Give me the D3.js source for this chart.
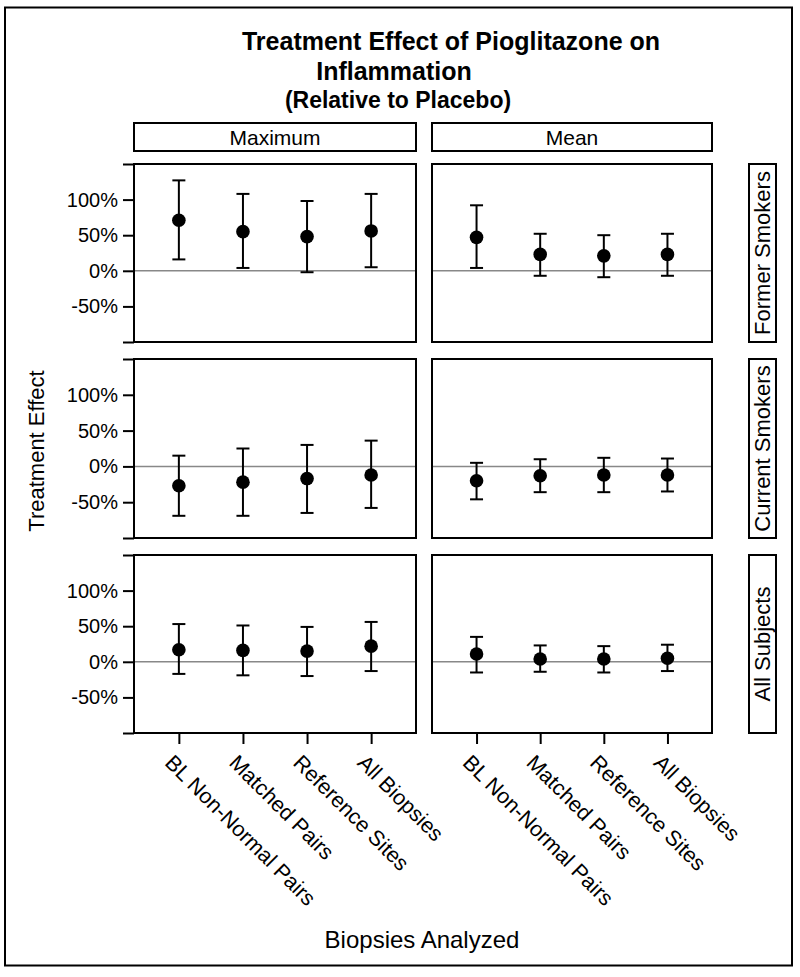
<!DOCTYPE html>
<html>
<head>
<meta charset="utf-8">
<script src="https://cdn.jsdelivr.net/npm/d3@7"></script>
<style>
  body { margin: 0; background: #fff; }
  svg { display: block; }
  text { font-family: "Liberation Sans", Arial, sans-serif; fill: #000; }
</style>
</head>
<body>
<svg id="chart" width="800" height="977"></svg>
<script>
// ---- Data ----
const categories = ["BL Non-Normal Pairs", "Matched Pairs", "Reference Sites", "All Biopsies"];
const columns = ["Maximum", "Mean"];
const rowsLabels = ["Former Smokers", "Current Smokers", "All Subjects"];

// Treatment effect (%) per row (Former, Current, All) and category
const maxEst  = [[71, 55, 48, 56], [-27, -22, -17, -12], [17, 16, 15, 22]];
const maxLow  = [[16, 4, -2, 5], [-69, -69, -65, -58], [-17, -19, -20, -13]];
const maxHigh = [[127, 108, 98, 108], [15, 25, 30, 36], [53, 51, 49, 56]];

const meanEst  = [[47, 23, 21, 23], [-20, -13, -12, -12], [11, 4, 4, 5]];
const meanLow  = [[4, -7, -9, -7], [-46, -36, -36, -35], [-15, -14, -15, -13]];
const meanHigh = [[92, 52, 50, 52], [5, 10, 12, 11], [35, 23, 22, 24]];

const yTicks = [-100, -50, 0, 50, 100, 150];
const yTickLabels = ["", "-50%", "0%", "50%", "100%", ""];
const yDomain = [-100, 150];

const titleLines = ["Treatment Effect of Pioglitazone on", "Inflammation", "(Relative to Placebo)"];
const yTitle = "Treatment Effect";
const xTitle = "Biopsies Analyzed";

// ---- Layout ----
const svg = d3.select("#chart");
const colX = [[134, 416], [432, 712]];
const rowY = [[164, 342], [359, 538], [555, 733]];
const stripTop = [123, 151];
const rowStripX = [749, 776];

const columnData = [
  { est: maxEst, low: maxLow, high: maxHigh },
  { est: meanEst, low: meanLow, high: meanHigh }
];

// Outer frame
svg.append("rect").attr("x", 5).attr("y", 7.5).attr("width", 787).attr("height", 958)
  .attr("fill", "none").attr("stroke", "#000").attr("stroke-width", 2);

// Title
const title = svg.append("g");
title.append("text").attr("x", 451).attr("y", 50).attr("text-anchor", "middle")
  .attr("font-size", 25).attr("font-weight", "bold").text(titleLines[0]);
title.append("text").attr("x", 394).attr("y", 80).attr("text-anchor", "middle")
  .attr("font-size", 25).attr("font-weight", "bold").text(titleLines[1]);
title.append("text").attr("x", 398).attr("y", 108).attr("text-anchor", "middle")
  .attr("font-size", 23).attr("font-weight", "bold").text(titleLines[2]);

// Column strips
columns.forEach((c, ci) => {
  const [x0, x1] = colX[ci];
  svg.append("rect").attr("x", x0).attr("y", stripTop[0]).attr("width", x1 - x0).attr("height", stripTop[1] - stripTop[0])
    .attr("fill", "#fff").attr("stroke", "#000").attr("stroke-width", 2);
  svg.append("text").attr("x", (x0 + x1) / 2).attr("y", (stripTop[0] + stripTop[1]) / 2)
    .attr("dy", "0.36em").attr("text-anchor", "middle").attr("font-size", 21).text(c);
});

// Row strips
rowsLabels.forEach((r, ri) => {
  const [y0, y1] = rowY[ri];
  svg.append("rect").attr("x", rowStripX[0]).attr("y", y0).attr("width", rowStripX[1] - rowStripX[0]).attr("height", y1 - y0)
    .attr("fill", "#fff").attr("stroke", "#000").attr("stroke-width", 2);
  const cx = (rowStripX[0] + rowStripX[1]) / 2, cy = (y0 + y1) / 2;
  svg.append("text").attr("transform", `translate(${cx},${cy}) rotate(-90)`)
    .attr("dy", "0.36em").attr("text-anchor", "middle").attr("font-size", 22).text(r);
});

// Panels
rowY.forEach(([y0, y1], ri) => {
  const y = d3.scaleLinear().domain(yDomain).range([y1, y0]);
  colX.forEach(([x0, x1], ci) => {
    const x = d3.scalePoint().domain(categories).range([x0, x1]).padding(0.7);
    const g = svg.append("g");
    const d = columnData[ci];

    // zero reference line
    g.append("line").attr("x1", x0).attr("x2", x1).attr("y1", y(0)).attr("y2", y(0))
      .attr("stroke", "#888").attr("stroke-width", 1.5);

    const pts = categories.map((cat, k) => ({ cat, est: d.est[ri][k], lo: d.low[ri][k], hi: d.high[ri][k] }));
    const bars = g.selectAll("g.bar").data(pts).enter().append("g").attr("class", "bar");
    bars.append("line").attr("x1", p => x(p.cat)).attr("x2", p => x(p.cat))
      .attr("y1", p => y(p.lo)).attr("y2", p => y(p.hi)).attr("stroke", "#000").attr("stroke-width", 2);
    bars.append("line").attr("x1", p => x(p.cat) - 6.5).attr("x2", p => x(p.cat) + 6.5)
      .attr("y1", p => y(p.hi)).attr("y2", p => y(p.hi)).attr("stroke", "#000").attr("stroke-width", 2);
    bars.append("line").attr("x1", p => x(p.cat) - 6.5).attr("x2", p => x(p.cat) + 6.5)
      .attr("y1", p => y(p.lo)).attr("y2", p => y(p.lo)).attr("stroke", "#000").attr("stroke-width", 2);
    bars.append("circle").attr("cx", p => x(p.cat)).attr("cy", p => y(p.est)).attr("r", 6.8).attr("fill", "#000");

    // panel border
    g.append("rect").attr("x", x0).attr("y", y0).attr("width", x1 - x0).attr("height", y1 - y0)
      .attr("fill", "none").attr("stroke", "#000").attr("stroke-width", 2);

    // y axis on left column
    if (ci === 0) {
      const ax = svg.append("g").attr("transform", `translate(${x0},0)`)
        .call(d3.axisLeft(y).tickValues(yTicks).tickSize(11).tickPadding(5)
          .tickFormat((v, i) => yTickLabels[i]));
      ax.select(".domain").remove();
      ax.selectAll(".tick line").attr("stroke", "#000").attr("stroke-width", 2);
      ax.selectAll(".tick text").attr("font-size", 20).attr("font-family", "Liberation Sans, Arial, sans-serif").attr("fill", "#000");
    }

    // x axis on bottom row
    if (ri === rowY.length - 1) {
      const ax = svg.append("g").attr("transform", `translate(0,${y1})`)
        .call(d3.axisBottom(x).tickSize(11).tickFormat(""));
      ax.select(".domain").remove();
      ax.selectAll(".tick line").attr("stroke", "#000").attr("stroke-width", 2);
      svg.append("g").selectAll("text").data(categories).enter().append("text")
        .attr("transform", c => `translate(${x(c) - 15},${y1 + 31}) rotate(45)`)
        .attr("text-anchor", "start").attr("font-size", 21.5).text(c => c);
    }
  });
});

// Axis titles
svg.append("text").attr("transform", "translate(44,451) rotate(-90)")
  .attr("text-anchor", "middle").attr("font-size", 22).text(yTitle);
svg.append("text").attr("x", 422).attr("y", 948).attr("text-anchor", "middle")
  .attr("font-size", 24).text(xTitle);
</script>
</body>
</html>
